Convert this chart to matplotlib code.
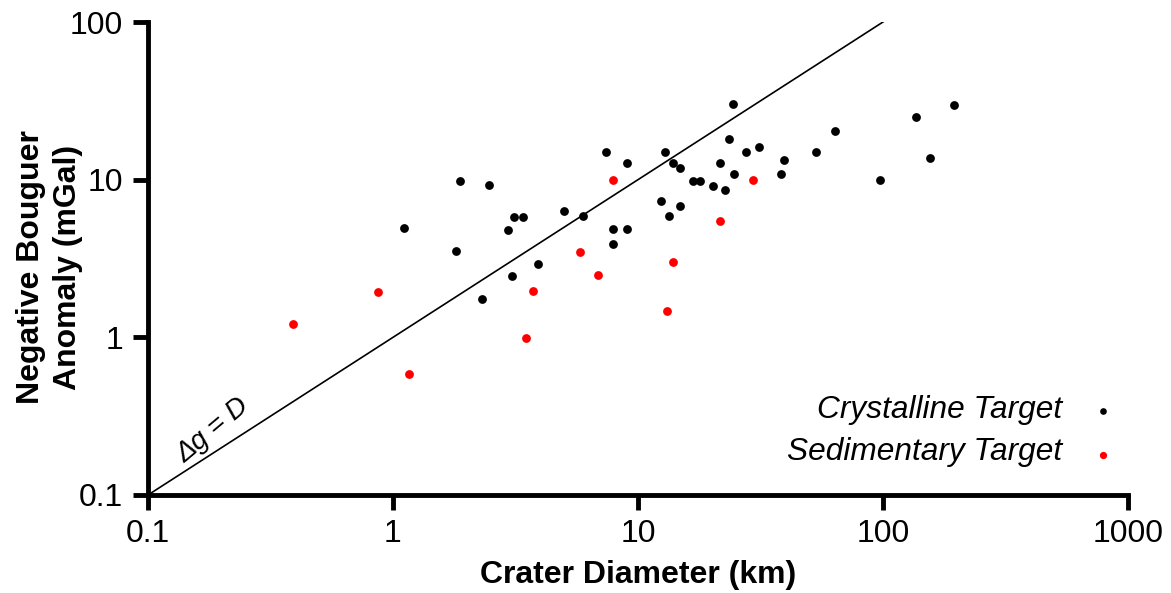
import matplotlib
matplotlib.use("Agg")
import matplotlib.pyplot as plt
import numpy as np

plt.rcParams['font.family'] = ['Liberation Sans', 'DejaVu Sans']

# Crystalline target craters: diameter (km), negative Bouguer anomaly (mGal)
cryst_D = [1.87, 2.47, 3.12, 3.38, 2.96, 1.11, 1.81, 3.07, 2.31, 3.9,
           24.5, 63.5, 23.5, 7.4, 12.85, 27.6, 53.4, 31.3, 9.0, 13.86,
           14.9, 21.6, 39.3, 16.7, 17.9, 20.3, 22.7, 24.7, 38.2, 97.0,
           4.97, 5.94, 7.93, 9.0, 7.93, 12.45, 13.35, 14.8,
           195.0, 137.0, 156.0]
cryst_G = [9.8, 9.2, 5.82, 5.82, 4.81, 4.93, 3.51, 2.44, 1.74, 2.9,
           30.0, 20.3, 18.1, 14.9, 14.9, 14.9, 14.9, 16.1, 12.8, 12.8,
           11.8, 12.8, 13.3, 9.85, 9.85, 9.1, 8.63, 10.9, 10.9, 10.0,
           6.3, 5.88, 4.86, 4.86, 3.9, 7.32, 5.9, 6.8,
           29.6, 24.8, 13.7]

# Sedimentary target craters
sed_D = [0.392, 0.866, 1.166, 3.72, 3.48, 7.9, 29.4, 21.6, 5.81, 13.86, 6.89, 13.1]
sed_G = [1.21, 1.94, 0.585, 1.97, 0.986, 10.0, 9.94, 5.44, 3.47, 3.0, 2.48, 1.475]

line_D = [0.1, 100]
line_G = [0.1, 100]

x_ticks = [0.1, 1, 10, 100, 1000]
x_tick_labels = ['0.1', '1', '10', '100', '1000']
y_ticks = [0.1, 1, 10, 100]
y_tick_labels = ['0.1', '1', '10', '100']

fig = plt.figure(figsize=(11.71, 5.93), dpi=100)
ax = fig.add_axes([148/1171, 98/593, 980/1171, 473/593])

ax.plot(line_D, line_G, color='black', lw=1.2, zorder=2)
ax.scatter(cryst_D, cryst_G, s=40, color='black', linewidths=0, zorder=3)
ax.scatter(sed_D, sed_G, s=40, color='#ff0000', linewidths=0, zorder=3)

ax.set_xscale('log')
ax.set_yscale('log')
ax.set_xlim(0.1, 1000)
ax.set_ylim(0.1, 100)
ax.set_xticks(x_ticks)
ax.set_xticklabels(x_tick_labels)
ax.set_yticks(y_ticks)
ax.set_yticklabels(y_tick_labels)
ax.minorticks_off()

for s in ['top', 'right']:
    ax.spines[s].set_visible(False)
for s in ['left', 'bottom']:
    ax.spines[s].set_linewidth(3.5)
ax.tick_params(axis='both', which='major', length=11, width=3.5,
               labelsize=23, direction='out')
ax.tick_params(axis='x', pad=6)
ax.tick_params(axis='y', pad=7)

ax.set_xlabel('Crater Diameter (km)', fontsize=23, fontweight='bold')
ax.xaxis.set_label_coords(0.5, -0.138)
ax.set_ylabel('Negative Bouguer\nAnomaly (mGal)', fontsize=23,
              fontweight='bold', linespacing=1.3)
ax.yaxis.set_label_coords(-0.066, 0.482)

ax.text(0.066, 0.137, '\u0394g = D', transform=ax.transAxes,
        fontsize=20, style='italic', rotation=40, ha='center', va='center')

# legend (manual)
ax.text(0.9327, 0.1797, 'Crystalline Target', transform=ax.transAxes,
        fontsize=22.8, style='italic', ha='right', va='center')
ax.text(0.9327, 0.0909, 'Sedimentary Target', transform=ax.transAxes,
        fontsize=22.8, style='italic', ha='right', va='center')
ax.plot([0.9745], [0.1776], 'o', color='black', ms=4.8, mew=0,
        transform=ax.transAxes, clip_on=False)
ax.plot([0.9745], [0.0846], 'o', color='#ff0000', ms=5.2, mew=0,
        transform=ax.transAxes, clip_on=False)

fig.savefig('out.png', dpi=100)
